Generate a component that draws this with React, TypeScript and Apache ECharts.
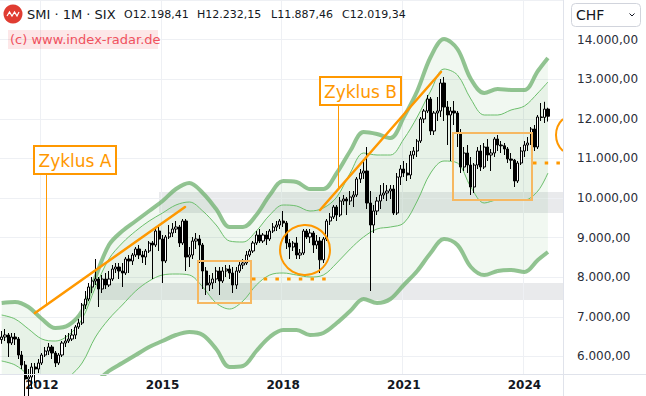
import React, { useEffect, useRef } from "react";
import * as echarts from "echarts";

// ---------- categories (monthly, Jan 2011 .. Dec 2024) ----------
const firstYear = 2011;
const monthCount = 168;
const months: string[] = [];
for (let i = 0; i < monthCount; i++) {
  const y = firstYear + Math.floor(i / 12);
  const m = (i % 12) + 1;
  months.push(`${y}-${String(m).padStart(2, "0")}`);
}
const yearLabels = ["2012", "2015", "2018", "2021", "2024"];

// ---------- monthly candles [open, close, low, high], Jan 2011 .. Aug 2024 ----------
const ohlc: number[][] = [
  // 2011
  [6436, 6500, 6330, 6650], [6500, 6550, 6400, 6700], [6550, 6350, 6000, 6600], [6350, 6500, 6300, 6600],
  [6500, 6450, 6300, 6600], [6450, 6050, 5950, 6500], [6050, 5800, 5700, 6150], [5800, 5450, 4950, 5900],
  [5450, 5500, 5000, 5700], [5500, 5750, 5200, 5850], [5750, 5700, 5350, 5850], [5700, 5850, 5600, 5950],
  // 2012
  [5850, 6050, 5800, 6100], [6050, 6150, 6000, 6250], [6150, 6250, 6050, 6350], [6250, 6100, 5950, 6300],
  [6100, 5850, 5750, 6150], [5850, 6050, 5800, 6100], [6050, 6350, 6000, 6400], [6350, 6400, 6250, 6550],
  [6400, 6450, 6350, 6600], [6450, 6550, 6400, 6700], [6550, 6750, 6450, 6800], [6750, 6850, 6700, 6950],
  // 2013
  [6850, 7300, 6800, 7350], [7300, 7450, 7200, 7650], [7450, 7750, 7400, 7850], [7750, 7900, 7600, 8000],
  [7900, 7950, 7800, 8450], [7950, 7700, 7250, 8000], [7700, 7950, 7600, 8050], [7950, 7800, 7700, 8100],
  [7800, 7950, 7750, 8150], [7950, 8200, 7900, 8300], [8200, 8250, 8100, 8350], [8250, 8150, 7950, 8350],
  // 2014
  [8150, 8100, 7750, 8350], [8100, 8450, 8050, 8500], [8450, 8400, 8100, 8550], [8400, 8550, 8300, 8600],
  [8550, 8700, 8500, 8750], [8700, 8550, 8450, 8800], [8550, 8500, 8350, 8650], [8500, 8650, 8300, 8700],
  [8650, 8850, 8600, 8900], [8850, 8800, 7950, 8900], [8800, 9150, 8750, 9200], [9150, 8950, 8650, 9250],
  // 2015
  [8950, 8400, 7850, 9050], [8400, 9000, 8350, 9050], [9000, 9100, 8950, 9300], [9100, 9200, 9000, 9350],
  [9200, 9250, 9100, 9400], [9250, 8850, 8750, 9300], [8850, 9400, 8800, 9450], [9400, 8500, 8150, 9450],
  [8500, 8550, 8250, 8750], [8550, 8900, 8450, 9000], [8900, 8950, 8700, 9100], [8950, 8800, 8350, 9050],
  // 2016
  [8800, 8150, 7700, 8850], [8150, 7800, 7550, 8250], [7800, 7850, 7650, 8050], [7850, 7950, 7700, 8100],
  [7950, 8150, 7850, 8250], [8150, 7900, 7550, 8250], [7900, 8150, 7850, 8250], [8150, 8200, 8000, 8300],
  [8200, 8100, 7950, 8300], [8100, 7800, 7600, 8250], [7800, 8150, 7700, 8250], [8150, 8300, 8100, 8400],
  // 2017
  [8300, 8350, 8200, 8450], [8350, 8550, 8300, 8650], [8550, 8650, 8500, 8700], [8650, 8850, 8600, 8900],
  [8850, 9050, 8800, 9150], [9050, 8900, 8850, 9200], [8900, 9050, 8850, 9100], [9050, 8950, 8800, 9150],
  [8950, 9150, 8900, 9200], [9150, 9250, 9100, 9350], [9250, 9300, 9150, 9400], [9300, 9400, 9200, 9450],
  // 2018
  [9400, 9350, 9250, 9650], [9350, 8850, 8700, 9400], [8850, 8750, 8450, 8950], [8750, 8850, 8650, 8900],
  [8850, 8550, 8450, 9000], [8550, 8600, 8450, 8700], [8600, 9150, 8550, 9200], [9150, 9000, 8950, 9200],
  [9000, 9100, 8850, 9200], [9100, 8800, 8600, 9150], [8800, 8900, 8700, 9050], [8900, 8430, 8100, 9000],
  // 2019
  [8430, 8950, 8350, 9000], [8950, 9400, 8900, 9450], [9400, 9500, 9300, 9600], [9500, 9750, 9450, 9800],
  [9750, 9550, 9400, 9800], [9550, 9900, 9500, 10000], [9900, 9950, 9800, 10050], [9950, 9900, 9550, 10000],
  [9900, 10000, 9800, 10150], [10000, 10050, 9750, 10150], [10050, 10450, 10000, 10500], [10450, 10600, 10350, 10700],
  // 2020
  [10600, 10650, 10450, 10900], [10650, 9850, 9700, 11250], [9850, 9300, 7650, 10150], [9300, 9650, 9100, 9800],
  [9650, 9900, 9550, 10000], [9900, 10050, 9700, 10300], [10050, 10100, 9950, 10350], [10100, 10150, 9900, 10300],
  [10150, 10200, 9950, 10300], [10200, 9600, 9550, 10300], [9600, 10500, 9550, 10600], [10500, 10700, 10300, 10800],
  // 2021
  [10700, 10600, 10500, 10900], [10600, 10550, 10400, 10850], [10550, 11050, 10450, 11150], [11050, 11150, 10950, 11250],
  [11150, 11400, 11000, 11450], [11400, 11950, 11350, 12000], [11950, 12150, 11850, 12200], [12150, 12450, 12100, 12550],
  [12450, 11650, 11550, 12500], [11650, 12100, 11550, 12150], [12100, 12150, 11900, 12500], [12150, 12850, 12000, 12950],
  // 2022
  [12850, 12250, 11900, 13000], [12250, 12050, 11300, 12400], [12050, 12150, 10900, 12250], [12150, 12100, 11800, 12400],
  [12100, 11600, 11250, 12150], [11600, 10750, 10600, 11700], [10750, 11100, 10650, 11250], [11100, 10800, 10600, 11300],
  [10800, 10250, 10050, 11000], [10250, 10800, 10100, 10850], [10800, 11150, 10700, 11250], [11150, 10750, 10650, 11300],
  // 2023
  [10750, 11250, 10700, 11350], [11250, 11050, 10900, 11450], [11050, 11100, 10650, 11200], [11100, 11450, 11000, 11500],
  [11450, 11300, 11150, 11550], [11300, 11280, 11100, 11400], [11280, 11200, 11050, 11350], [11200, 10950, 10850, 11250],
  [10950, 10920, 10700, 11100], [10920, 10400, 10250, 10950], [10400, 10850, 10350, 10900], [10850, 11150, 10800, 11250],
  // 2024
  [11150, 11300, 11000, 11400], [11300, 11350, 11150, 11500], [11350, 11700, 11300, 11750], [11700, 11250, 11150, 11800],
  [11250, 12000, 11200, 12050], [12000, 11990, 11900, 12350], [11990, 12198, 11850, 12380], [12198, 12019, 11887, 12232],
];

// ---------- envelope bands, read at sampled months (index into months) ----------
const bandMonths = [0, 4, 8, 12, 16, 20, 24, 28, 32, 36, 40, 44, 48, 52, 56, 60, 64, 68, 72, 76, 80,
  84, 88, 92, 96, 100, 104, 108, 112, 116, 120, 124, 128, 132, 136, 140, 144, 148, 152, 156, 160, 163];
const upperOuter = [7350, 7375, 7250, 6950, 6725, 6800, 7150, 8000, 8800, 9150, 9400, 9650, 9900, 10200, 10350, 10100,
  9700, 9250, 9250, 9550, 10050, 10400, 10375, 10200, 10200, 10600, 11150, 11625, 11575, 11475, 12000, 12650,
  13500, 13950, 13700, 12950, 12600, 12700, 12675, 12675, 13150, 13475];
const upperInner = [7050, 6950, 6700, 6450, 6400, 6550, 6950, 7750, 8450, 8850, 9150, 9400, 9600, 9800, 9875, 9650,
  9300, 8900, 8875, 9150, 9550, 9800, 9775, 9650, 9725, 10000, 10600, 11100, 11050, 11050, 11450, 12000,
  12650, 13200, 13050, 12450, 12050, 12050, 12175, 12275, 12600, 12875];
const lowerInner = [5900, 5800, 5550, 5300, 5300, 5500, 5850, 6500, 6950, 7300, 7650, 7900, 8050, 8075, 8050, 7750,
  7350, 7200, 7400, 7800, 8050, 8100, 8050, 8000, 8050, 8350, 8700, 9000, 9200, 9250, 9350, 9900,
  10600, 10900, 10850, 10250, 9850, 9925, 9925, 9925, 10150, 10600];
const lowerOuter = [5100, 5050, 4900, 4700, 4600, 4700, 4950, 5350, 5650, 5850, 6050, 6250, 6400, 6550, 6625, 6550,
  6200, 5750, 5775, 6150, 6500, 6675, 6675, 6550, 6600, 6850, 7150, 7450, 7350, 7450, 7800, 8150,
  8600, 8950, 8800, 8250, 8050, 8150, 8175, 8125, 8425, 8625];

const headerTitle = "SMI · 1M · SIX";
const headerValues = ["O12.198,41", "H12.232,15", "L11.887,46", "C12.019,34"];
const watermark = "(c) www.index-radar.de";

const ORANGE = "#ff9800";
const BOX_ORANGE = "#f6b862";
const FONT = "DejaVu Sans";

function fmtPrice(v: number): string {
  const th = Math.floor(v / 1000);
  const rest = String(Math.round(v % 1000)).padStart(3, "0");
  return `${th}.${rest},00`;
}

function isYearTick(_i: number, value: string): boolean {
  return value.endsWith("-01") && yearLabels.includes(value.slice(0, 4));
}

export default function App() {
  const ref = useRef<HTMLDivElement>(null);

  useEffect(() => {
    if (!ref.current) return;
    const chart = echarts.init(ref.current, undefined, { renderer: "svg" });

    const bandSeries = (name: string, vals: number[], lineColor: string, lineWidth: number, fill: string | null) => ({
      name,
      type: "line",
      xAxisIndex: 0,
      yAxisIndex: 0,
      stack: "env",
      stackStrategy: "all",
      smooth: 0.35,
      symbol: "none",
      silent: true,
      z: 1,
      data: bandMonths.map((m, i) => [months[m], vals[i]]),
      lineStyle: { color: lineColor, width: lineWidth },
      areaStyle: fill ? { color: fill, opacity: 1 } : undefined,
    });

    const thick = "rgba(110,176,110,0.75)";
    const thin = "#6cbf6c";
    const outerFill = "rgba(60,150,60,0.07)";
    const innerFill = "rgba(60,150,60,0.12)";

    const option: any = {
      animation: false,
      backgroundColor: "#ffffff",
      grid: [
        { left: 0, right: 83, top: 0, bottom: 22 },
        { left: 0, right: 83, top: -3, bottom: -1 },
      ],
      xAxis: [
        {
          type: "category",
          gridIndex: 0,
          data: months,
          boundaryGap: true,
          axisLine: { show: false },
          axisTick: { show: false, alignWithLabel: true },
          axisLabel: {
            interval: isYearTick,
            formatter: (v: string) => v.slice(0, 4),
            color: "#131722",
            fontFamily: FONT,
            fontSize: 12,
            fontWeight: "bold",
            margin: 5,
          },
          splitLine: { show: true, interval: isYearTick, lineStyle: { color: "#eef0f4", width: 1 } },
        },
        { type: "value", gridIndex: 1, show: false, min: 0, max: 1 },
      ],
      yAxis: [
        { type: "value", gridIndex: 0, min: 5575, max: 14925, show: false },
        {
          type: "value",
          gridIndex: 1,
          min: 5000,
          max: 15000,
          interval: 1000,
          position: "right",
          axisLine: { show: false },
          axisTick: { show: false },
          axisLabel: {
            margin: 14,
            color: "#2a2e39",
            fontFamily: FONT,
            fontSize: 12,
            showMinLabel: false,
            showMaxLabel: false,
            formatter: (v: number) => fmtPrice(v),
          },
          splitLine: { lineStyle: { color: "#eef0f4", width: 1 } },
        },
      ],
      series: [
        bandSeries("lowerOuter", lowerOuter, thick, 4, null),
        bandSeries("lowerInner", lowerInner.map((v, i) => v - lowerOuter[i]), thin, 1, outerFill),
        bandSeries("upperInner", upperInner.map((v, i) => v - lowerInner[i]), thin, 1, innerFill),
        bandSeries("upperOuter", upperOuter.map((v, i) => v - upperInner[i]), thick, 4, outerFill),
        {
          name: "SMI",
          type: "candlestick",
          xAxisIndex: 0,
          yAxisIndex: 0,
          z: 3,
          barWidth: "80%",
          data: ohlc,
          itemStyle: {
            color: "#ffffff",
            color0: "#000000",
            borderColor: "#000000",
            borderColor0: "#000000",
            borderWidth: 1,
          },
        },
      ],
      graphic: {
        elements: [
          // grey horizontal zones
          { type: "rect", z: 0, silent: true, shape: { x: 159, y: 192, width: 404, height: 21 }, style: { fill: "rgba(120,123,134,0.16)" } },
          { type: "rect", z: 0, silent: true, shape: { x: 97, y: 283, width: 466, height: 17 }, style: { fill: "rgba(120,123,134,0.16)" } },
          // boxes
          { type: "rect", z: 10, shape: { x: 198, y: 261, width: 53, height: 42 }, style: { fill: "none", stroke: BOX_ORANGE, lineWidth: 2 } },
          { type: "rect", z: 10, shape: { x: 453, y: 133, width: 79, height: 67 }, style: { fill: "none", stroke: BOX_ORANGE, lineWidth: 2 } },
          // circle
          { type: "circle", z: 10, shape: { cx: 305, cy: 250, r: 25 }, style: { fill: "none", stroke: ORANGE, lineWidth: 2 } },
          { type: "arc", z: 10, shape: { cx: 578, cy: 135, r: 22, startAngle: 2.322, endAngle: 3.961 }, style: { fill: "none", stroke: ORANGE, lineWidth: 2 } },
          // dotted levels
          { type: "line", z: 10, shape: { x1: 252, y1: 279, x2: 329, y2: 279 }, style: { stroke: ORANGE, lineWidth: 3, lineDash: [3.5, 8.2] } },
          { type: "line", z: 10, shape: { x1: 533, y1: 163, x2: 563, y2: 163 }, style: { stroke: ORANGE, lineWidth: 3, lineDash: [3.5, 8.2] } },
          // cycle A
          { type: "line", z: 10, shape: { x1: 35, y1: 313, x2: 185, y2: 207 }, style: { stroke: ORANGE, lineWidth: 2.5, lineCap: "round" } },
          { type: "line", z: 10, shape: { x1: 46.5, y1: 174, x2: 46.5, y2: 304 }, style: { stroke: ORANGE, lineWidth: 1 } },
          { type: "rect", z: 11, shape: { x: 34, y: 146, width: 82, height: 28 }, style: { fill: "#ffffff", stroke: ORANGE, lineWidth: 2 } },
          { type: "text", z: 12, style: { text: "Zyklus A", x: 75, y: 160.5, fill: ORANGE, fontSize: 17, fontFamily: FONT, align: "center", verticalAlign: "middle" } },
          // cycle B
          { type: "line", z: 10, shape: { x1: 320, y1: 210, x2: 441, y2: 72 }, style: { stroke: ORANGE, lineWidth: 2.5, lineCap: "round" } },
          { type: "line", z: 10, shape: { x1: 338.5, y1: 105, x2: 338.5, y2: 190 }, style: { stroke: ORANGE, lineWidth: 1 } },
          { type: "rect", z: 11, shape: { x: 320, y: 77, width: 81, height: 28 }, style: { fill: "#ffffff", stroke: ORANGE, lineWidth: 2 } },
          { type: "text", z: 12, style: { text: "Zyklus B", x: 360.5, y: 91.5, fill: ORANGE, fontSize: 17, fontFamily: FONT, align: "center", verticalAlign: "middle" } },
          // pane borders
          { type: "line", z: 15, silent: true, shape: { x1: 563.5, y1: 0, x2: 563.5, y2: 396 }, style: { stroke: "#e0e3eb", lineWidth: 1 } },
          { type: "line", z: 15, silent: true, shape: { x1: 0, y1: 374.5, x2: 646, y2: 374.5 }, style: { stroke: "#e0e3eb", lineWidth: 1 } },
          // header
          { type: "circle", z: 20, shape: { cx: 13, cy: 14, r: 9.5 }, style: { fill: "#e03c31" } },
          { type: "polyline", z: 21, shape: { points: [[7, 16], [9.5, 12], [12, 16], [14.5, 12], [17, 16], [19, 12]] }, style: { stroke: "#ffffff", lineWidth: 1.2, fill: "none" } },
          { type: "text", z: 20, style: { text: headerTitle, x: 27, y: 14.5, fill: "#131722", fontSize: 13, fontFamily: FONT, verticalAlign: "middle" } },
          { type: "text", z: 20, style: { text: headerValues[0], x: 124, y: 14.5, fill: "#131722", fontSize: 11, fontFamily: FONT, verticalAlign: "middle" } },
          { type: "text", z: 20, style: { text: headerValues[1], x: 197, y: 14.5, fill: "#131722", fontSize: 11, fontFamily: FONT, verticalAlign: "middle" } },
          { type: "text", z: 20, style: { text: headerValues[2], x: 271, y: 14.5, fill: "#131722", fontSize: 11, fontFamily: FONT, verticalAlign: "middle" } },
          { type: "text", z: 20, style: { text: headerValues[3], x: 342, y: 14.5, fill: "#131722", fontSize: 11, fontFamily: FONT, verticalAlign: "middle" } },
          { type: "rect", z: 20, shape: { x: 8, y: 30, width: 150, height: 19 }, style: { fill: "rgba(242,54,69,0.12)" } },
          { type: "text", z: 21, style: { text: watermark, x: 10, y: 39.5, fill: "#f0525e", fontSize: 13, fontFamily: FONT, verticalAlign: "middle" } },
          // currency box
          { type: "rect", z: 30, shape: { x: 571.5, y: 3.5, width: 69, height: 23, r: 4 }, style: { fill: "#ffffff", stroke: "#d1d4dc", lineWidth: 1 } },
          { type: "text", z: 31, style: { text: "CHF", x: 576, y: 15, fill: "#131722", fontSize: 14, fontFamily: FONT, verticalAlign: "middle" } },
          { type: "polyline", z: 31, shape: { points: [[629.5, 13.5], [632, 16], [634.5, 13.5]] }, style: { stroke: "#131722", lineWidth: 1, fill: "none" } },
        ],
      },
    };

    chart.setOption(option);
    return () => chart.dispose();
  }, []);

  return (
    <div
      ref={ref}
      style={{ position: "absolute", left: 0, top: 0, width: 646, height: 396, background: "#ffffff" }}
    />
  );
}
